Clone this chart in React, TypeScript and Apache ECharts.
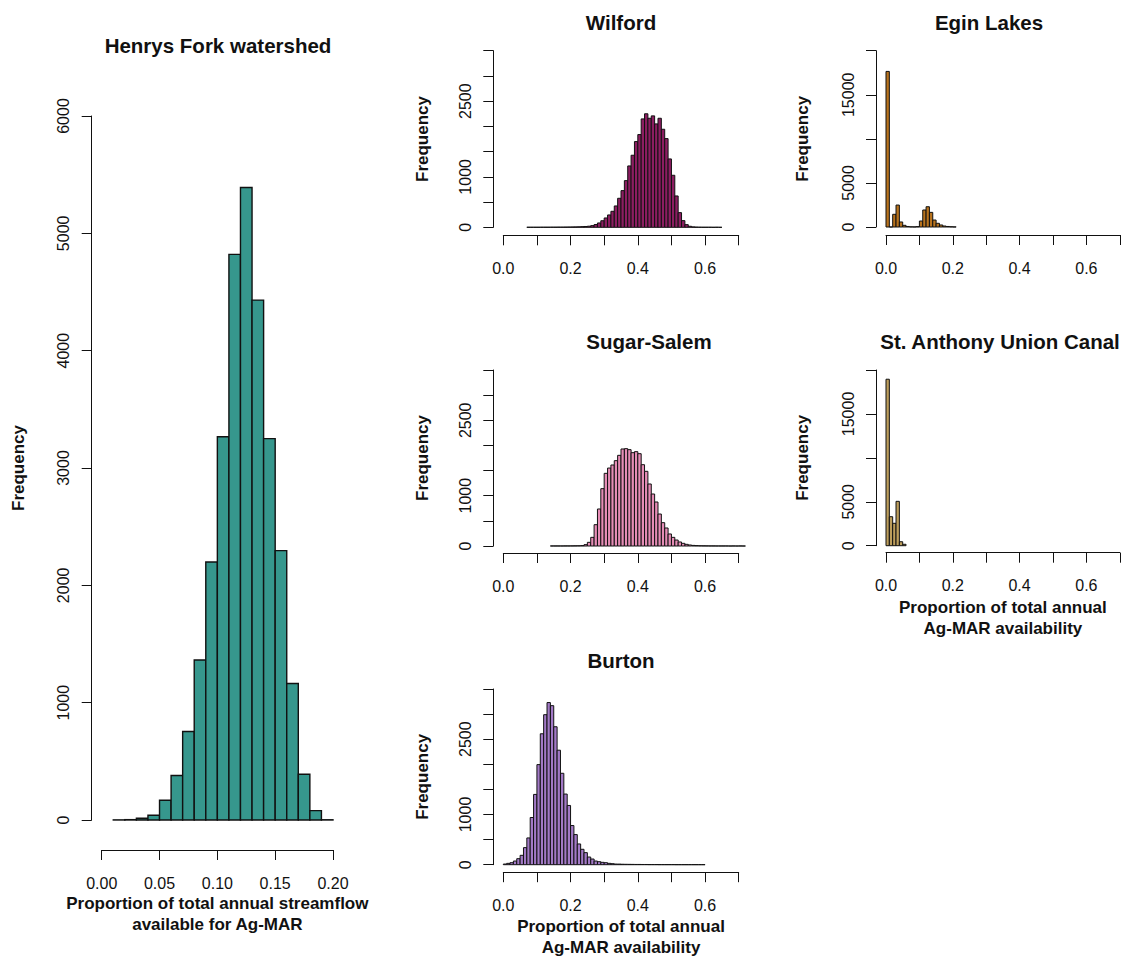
import React, { useEffect, useRef } from "react";
import * as echarts from "echarts";

// Histogram counts, one bin per 0.01 of the proportion axis.
const binWidth = 0.01;

const henrysStart = 0.01;
const henrysCounts = [1, 3, 15, 40, 168, 379, 754, 1363, 2199, 3266, 4821, 5390, 4431, 3250, 2296, 1163, 390, 80, 2];

const wilfordStart = 0.07;
const wilfordCounts = [
  1, 1, 1, 1, 2, 2, 2, 3, 3, 4, 4, 5, 6, 7, 8, 10, 13, 16, 22, 33, 55, 86, 130, 185, 245, 317, 423, 575, 727, 925,
  1216, 1428, 1699, 1838, 2148, 2250, 2161, 2208, 2049, 2161, 1943, 1758, 1355, 1031, 621, 291, 132, 53, 20, 8, 4, 2,
  1, 1, 1, 0, 1, 0,
];

const sugarStart = 0.14;
const sugarCounts = [
  1, 1, 1, 1, 2, 2, 3, 4, 5, 8, 27, 73, 172, 424, 736, 1140, 1445, 1550, 1611, 1697, 1803, 1929, 1936, 1916, 1856,
  1876, 1836, 1617, 1485, 1233, 1034, 875, 636, 464, 358, 239, 172, 119, 80, 53, 33, 20, 12, 8, 5, 4, 3, 2, 2, 1, 1,
  1, 1, 0, 1, 0, 1, 0,
];

const burtonStart = 0.0;
const burtonCounts = [
  13, 27, 40, 73, 120, 187, 340, 533, 940, 1400, 1994, 2608, 2988, 3230, 3168, 2748, 2281, 1821, 1407, 1180, 780, 600,
  413, 307, 240, 153, 113, 73, 60, 47, 40, 27, 20, 13, 12, 9, 8, 7, 6, 5, 5, 4, 4, 3, 3, 3, 2, 2, 2, 2, 2, 1, 1, 1, 1,
  1, 1, 1, 1, 1,
];

const eginStart = 0.0;
const eginCounts = [17650, 0, 1440, 2490, 570, 190, 60, 20, 10, 40, 680, 1930, 2300, 1660, 790, 420, 230, 110, 60, 30, 10];

const stAnthonyStart = 0.0;
const stAnthonyCounts = [18950, 3300, 2550, 5050, 450, 160];

// Axis ticks and the tick labels that are printed.
const henrysXTicks = [0, 0.05, 0.1, 0.15, 0.2];
const henrysYTicks = [0, 1000, 2000, 3000, 4000, 5000, 6000];
const smallXTicks = [0, 0.1, 0.2, 0.3, 0.4, 0.5, 0.6, 0.7];
const smallXLabels = [0, 0.2, 0.4, 0.6];
const midYTicks = [0, 500, 1000, 1500, 2000, 2500, 3000, 3500];
const midYLabels = [0, 1000, 2500];
const rightYTicks = [0, 5000, 10000, 15000, 20000];
const rightYLabels = [0, 5000, 15000];

const FONT = '"Liberation Sans", Arial, Helvetica, sans-serif';
const INK = "#111";
const TICK_FONT = 16;
const LAB_FONT = 17;
const MAIN_FONT = 20.5;

type Panel = {
  title: string;
  titleX: number;
  titleY: number;
  start: number;
  counts: number[];
  color: string;
  grid: { left: number; top: number; width: number; height: number };
  xTicks: number[];
  xLabels: number[];
  xDigits: number;
  yTicks: number[];
  yLabels: number[];
  xOffset: number;
  yOffset: number;
  xName: string;
  xNameGap: number;
  yNameGap: number;
  border: number;
};

const panels: Panel[] = [
  {
    title: "Henrys Fork watershed",
    titleX: 218,
    titleY: 45,
    start: henrysStart,
    counts: henrysCounts,
    color: "#36978d",
    grid: { left: 101.7, top: 116, width: 231.3, height: 704 },
    xTicks: henrysXTicks,
    xLabels: henrysXTicks,
    xDigits: 2,
    yTicks: henrysYTicks,
    yLabels: henrysYTicks,
    xOffset: 30,
    yOffset: 10,
    xName: "Proportion of total annual streamflow\navailable for Ag-MAR",
    xNameGap: 43,
    yNameGap: 65,
    border: 1.4,
  },
  {
    title: "Wilford",
    titleX: 621,
    titleY: 22,
    start: wilfordStart,
    counts: wilfordCounts,
    color: "#8c1d61",
    grid: { left: 503.3, top: 50.7, width: 235.4, height: 176.6 },
    xTicks: smallXTicks,
    xLabels: smallXLabels,
    xDigits: 1,
    yTicks: midYTicks,
    yLabels: midYLabels,
    xOffset: 8,
    yOffset: 10,
    xName: "",
    xNameGap: 44,
    yNameGap: 62,
    border: 1,
  },
  {
    title: "Sugar-Salem",
    titleX: 649,
    titleY: 341,
    start: sugarStart,
    counts: sugarCounts,
    color: "#e68db6",
    grid: { left: 503.3, top: 370, width: 235.4, height: 176 },
    xTicks: smallXTicks,
    xLabels: smallXLabels,
    xDigits: 1,
    yTicks: midYTicks,
    yLabels: midYLabels,
    xOffset: 7,
    yOffset: 10,
    xName: "",
    xNameGap: 44,
    yNameGap: 62,
    border: 1,
  },
  {
    title: "Burton",
    titleX: 621,
    titleY: 660,
    start: burtonStart,
    counts: burtonCounts,
    color: "#a279c6",
    grid: { left: 503.3, top: 689, width: 235.4, height: 175.7 },
    xTicks: smallXTicks,
    xLabels: smallXLabels,
    xDigits: 1,
    yTicks: midYTicks,
    yLabels: midYLabels,
    xOffset: 7.5,
    yOffset: 10,
    xName: "Proportion of total annual\nAg-MAR availability",
    xNameGap: 44,
    yNameGap: 62,
    border: 1,
  },
  {
    title: "Egin Lakes",
    titleX: 989,
    titleY: 22,
    start: eginStart,
    counts: eginCounts,
    color: "#b8731d",
    grid: { left: 886, top: 50.7, width: 233.8, height: 176.3 },
    xTicks: smallXTicks,
    xLabels: smallXLabels,
    xDigits: 1,
    yTicks: rightYTicks,
    yLabels: rightYLabels,
    xOffset: 8,
    yOffset: 10,
    xName: "",
    xNameGap: 44,
    yNameGap: 65,
    border: 1,
  },
  {
    title: "St. Anthony Union Canal",
    titleX: 1000,
    titleY: 341,
    start: stAnthonyStart,
    counts: stAnthonyCounts,
    color: "#bd9e5c",
    grid: { left: 886, top: 370, width: 233.8, height: 175.7 },
    xTicks: smallXTicks,
    xLabels: smallXLabels,
    xDigits: 1,
    yTicks: rightYTicks,
    yLabels: rightYLabels,
    xOffset: 7,
    yOffset: 10,
    xName: "Proportion of total annual\nAg-MAR availability",
    xNameGap: 44,
    yNameGap: 65,
    border: 1,
  },
];

const near = (list: number[], v: number) => list.some((t) => Math.abs(t - v) < 1e-9);

function buildOption() {
  const grid = panels.map((p) => ({
    left: p.grid.left,
    top: p.grid.top,
    width: p.grid.width,
    height: p.grid.height,
    containLabel: false,
    outerBoundsMode: "none",
  }));

  const xAxis = panels.map((p, i) => ({
    type: "value",
    gridIndex: i,
    min: p.xTicks[0],
    max: p.xTicks[p.xTicks.length - 1],
    interval: p.xTicks[1] - p.xTicks[0],
    offset: p.xOffset,
    position: "bottom",
    splitLine: { show: false },
    axisLine: { show: true, onZero: false, lineStyle: { color: INK, width: 1 } },
    axisTick: { show: true, inside: false, length: 10, lineStyle: { color: INK, width: 1 } },
    axisLabel: {
      show: true,
      margin: 25,
      fontSize: TICK_FONT,
      color: INK,
      fontFamily: FONT,
      showMinLabel: true,
      showMaxLabel: true,
      hideOverlap: false,
      formatter: (v: number) => (near(p.xLabels, v) ? v.toFixed(p.xDigits) : ""),
    },
    name: p.xName,
    nameLocation: "middle",
    nameGap: p.xNameGap,
    nameMoveOverlap: false,
    nameTextStyle: { fontFamily: FONT, fontWeight: "bold", fontSize: LAB_FONT, color: INK, lineHeight: 21 },
  }));

  const yAxis = panels.map((p, i) => ({
    type: "value",
    gridIndex: i,
    min: p.yTicks[0],
    max: p.yTicks[p.yTicks.length - 1],
    interval: p.yTicks[1] - p.yTicks[0],
    offset: p.yOffset,
    position: "left",
    splitLine: { show: false },
    axisLine: { show: true, onZero: false, lineStyle: { color: INK, width: 1 } },
    axisTick: { show: true, inside: false, length: 10, lineStyle: { color: INK, width: 1 } },
    axisLabel: {
      show: true,
      rotate: 90,
      margin: 20,
      fontSize: TICK_FONT,
      color: INK,
      fontFamily: FONT,
      showMinLabel: true,
      showMaxLabel: true,
      hideOverlap: false,
      formatter: (v: number) => (near(p.yLabels, v) ? String(v) : ""),
    },
    name: "Frequency",
    nameLocation: "middle",
    nameRotate: 90,
    nameGap: p.yNameGap,
    nameMoveOverlap: false,
    nameTextStyle: { fontFamily: FONT, fontWeight: "bold", fontSize: LAB_FONT, color: INK },
  }));

  const series = panels.map((p, i) => ({
    type: "custom",
    coordinateSystem: "cartesian2d",
    xAxisIndex: i,
    yAxisIndex: i,
    clip: false,
    silent: true,
    encode: { x: [0, 1], y: 2 },
    data: p.counts.map((n, k) => {
      const lo = +(p.start + k * binWidth).toFixed(4);
      const hi = +(p.start + (k + 1) * binWidth).toFixed(4);
      return [lo, hi, n];
    }),
    renderItem: (_params: any, api: any) => {
      const top = api.coord([api.value(0), api.value(2)]);
      const base = api.coord([api.value(1), 0]);
      return {
        type: "rect",
        shape: { x: top[0], y: top[1], width: base[0] - top[0], height: base[1] - top[1] },
        style: { fill: p.color, stroke: INK, lineWidth: p.border },
      };
    },
  }));

  const graphic = panels.map((p) => ({
    type: "text",
    x: p.titleX,
    y: p.titleY,
    silent: true,
    style: {
      text: p.title,
      fontFamily: FONT,
      fontWeight: "bold",
      fontSize: MAIN_FONT,
      fill: INK,
      align: "center",
      verticalAlign: "middle",
    },
  }));

  return { animation: false, backgroundColor: "#ffffff", grid, xAxis, yAxis, series, graphic };
}

export default function App() {
  const ref = useRef<HTMLDivElement | null>(null);

  useEffect(() => {
    if (!ref.current) return;
    const chart = echarts.init(ref.current, undefined, { renderer: "svg" });
    chart.setOption(buildOption() as any);
    return () => chart.dispose();
  }, []);

  return (
    <div
      ref={ref}
      style={{ position: "absolute", left: 0, top: 0, width: 1132, height: 957, background: "#fff" }}
    />
  );
}
